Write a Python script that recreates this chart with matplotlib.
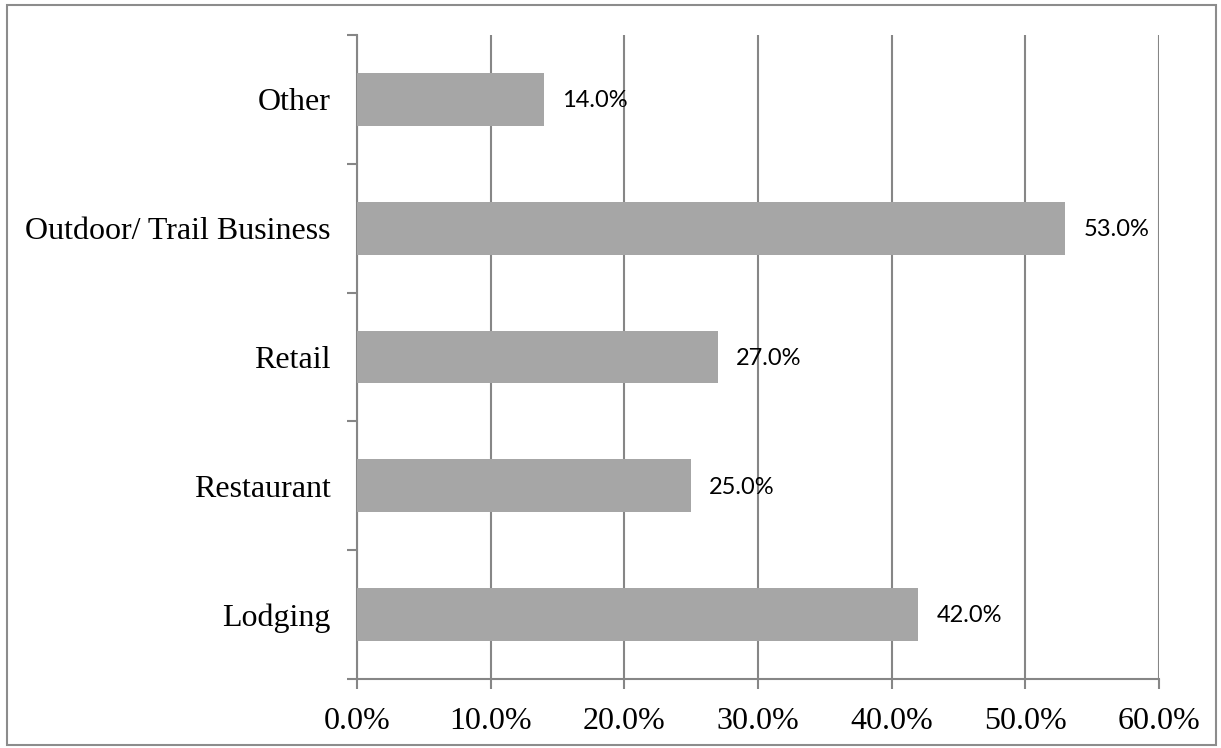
import matplotlib.pyplot as plt
from matplotlib.patches import Rectangle
from matplotlib.ticker import FuncFormatter

categories = ["Lodging", "Restaurant", "Retail", "Outdoor/ Trail Business", "Other"]
values = [42.0, 25.0, 27.0, 53.0, 14.0]
xticks = [0, 10, 20, 30, 40, 50, 60]

grey = "#868686"

fig = plt.figure(figsize=(12.21, 7.48), dpi=100)
ax = fig.add_axes([357 / 1221, 1 - 679 / 748, 802 / 1221, 644 / 748])

ax.barh(range(len(categories)), values, height=0.41, color="#a6a6a6", zorder=3)

for i, v in enumerate(values):
    ax.annotate(f"{v:.1f}%", (v, i), xytext=(13, -1), textcoords="offset points",
                va="center", ha="left", fontsize=17, family="Lato", color="black")

ax.set_xlim(0, 60)
ax.set_ylim(-0.5, len(categories) - 0.5)
ax.set_xticks(xticks)
ax.xaxis.set_major_formatter(FuncFormatter(lambda x, p: f"{x:.1f}%"))
ax.set_yticks(range(len(categories)))
ax.set_yticklabels(categories)
ax.set_yticks([i - 0.5 for i in range(len(categories) + 1)], minor=True)

ax.grid(axis="x", color=grey, linewidth=1.5, zorder=0)
for s in ["top", "right"]:
    ax.spines[s].set_visible(False)
for s in ["left", "bottom"]:
    ax.spines[s].set_color(grey)
    ax.spines[s].set_linewidth(1.5)

ax.tick_params(axis="y", which="major", length=0, pad=19)
ax.tick_params(axis="y", which="minor", length=7, width=1.5, color=grey)
ax.tick_params(axis="x", length=7, width=1.5, color=grey, pad=13)
for lab in ax.get_xticklabels() + ax.get_yticklabels():
    lab.set_family("Liberation Serif")
    lab.set_fontsize(23)

fig.patches.append(Rectangle((7 / 1221, 3 / 748), 1209 / 1221, 740 / 748,
                             transform=fig.transFigure, fill=False,
                             edgecolor="#8c8c8c", linewidth=1.5))

fig.savefig("out.png", dpi=100)
